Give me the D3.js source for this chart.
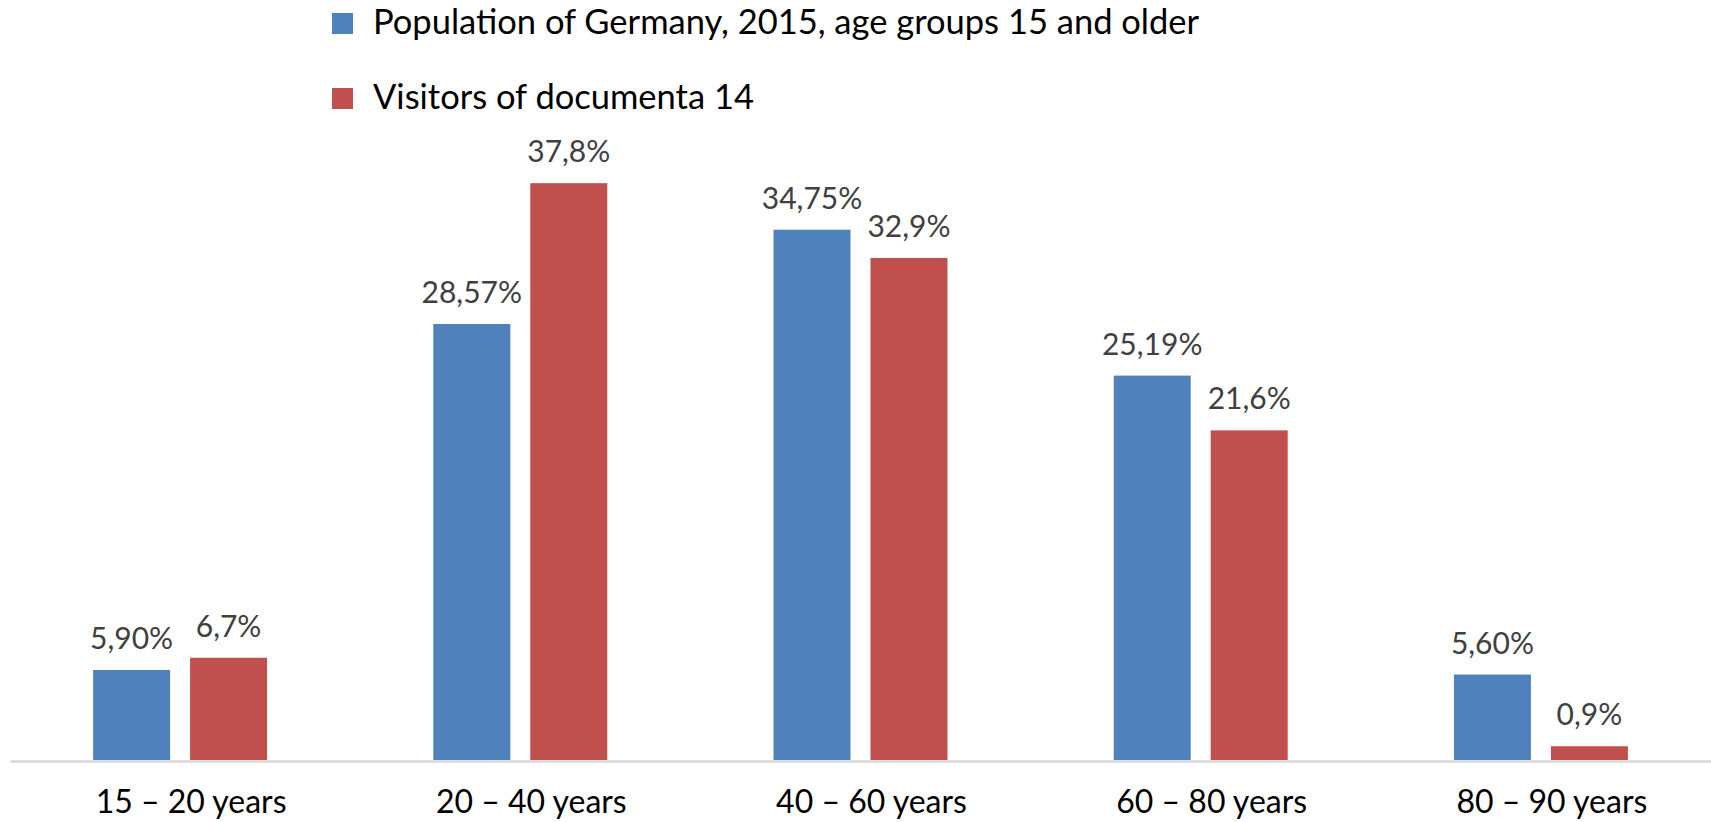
<!DOCTYPE html>
<html>
<head>
<meta charset="utf-8">
<script src="https://cdn.jsdelivr.net/npm/d3@7/dist/d3.min.js"></script>
<style>
  html, body { margin: 0; padding: 0; background: #ffffff; }
  svg { display: block; }
  text { font-family: Lato, "Noto Sans", sans-serif; }
</style>
</head>
<body>
<svg id="chart" width="1711" height="822"></svg>
<script>
// Age groups on the x axis
const categories = ["15 – 20 years", "20 – 40 years", "40 – 60 years", "60 – 80 years", "80 – 90 years"];
// Share of each age group, in percent
const populationValues = [5.90, 28.57, 34.75, 25.19, 5.60];
const visitorValues = [6.7, 37.8, 32.9, 21.6, 0.9];
// Value labels as printed above the bars
const populationLabels = ["5,90%", "28,57%", "34,75%", "25,19%", "5,60%"];
const visitorLabels = ["6,7%", "37,8%", "32,9%", "21,6%", "0,9%"];
// Legend entries
const seriesNames = ["Population of Germany, 2015, age groups 15 and older", "Visitors of documenta 14"];
const seriesColors = ["#4f81bd", "#c0504d"];

const series = [
  { name: seriesNames[0], color: seriesColors[0], values: populationValues, labels: populationLabels },
  { name: seriesNames[1], color: seriesColors[1], values: visitorValues, labels: visitorLabels }
];

const svg = d3.select("#chart");
const plot = { left: 10, right: 1711, baseline: 760 };

const x = d3.scaleBand()
  .domain(categories)
  .range([plot.left, plot.right])
  .paddingInner(0)
  .paddingOuter(0);

const x1 = d3.scaleBand()
  .domain(seriesNames)
  .range([0, x.bandwidth()])
  .paddingInner(0.206)
  .paddingOuter(0.857);

const y = d3.scaleLinear()
  .domain([0, 40])
  .range([plot.baseline, plot.baseline - 40 * 15.26]);

// Bars
const groups = svg.append("g")
  .selectAll("g")
  .data(series)
  .join("g")
  .attr("fill", d => d.color);

groups.selectAll("rect")
  .data(s => s.values.map((v, i) => ({ s, v, i })))
  .join("rect")
  .attr("x", d => x(categories[d.i]) + x1(d.s.name))
  .attr("y", d => y(d.v))
  .attr("width", x1.bandwidth())
  .attr("height", d => y(0) - y(d.v));

// Value labels
svg.append("g")
  .selectAll("g")
  .data(series)
  .join("g")
  .selectAll("text")
  .data(s => s.values.map((v, i) => ({ s, v, i })))
  .join("text")
  .attr("x", d => x(categories[d.i]) + x1(d.s.name) + x1.bandwidth() / 2)
  .attr("y", d => y(d.v) - 21)
  .attr("text-anchor", "middle")
  .attr("fill", "#404040")
  .attr("font-size", 30)
  .text(d => d.s.labels[d.i]);

// Category axis
const xAxis = d3.axisBottom(x).tickSize(0).tickPadding(0);
const axisG = svg.append("g")
  .attr("transform", `translate(0,${plot.baseline + 1})`)
  .call(xAxis);
axisG.select(".domain")
  .attr("stroke", "#d9d9d9")
  .attr("stroke-width", 2.5);
axisG.selectAll(".tick text")
  .attr("font-size", 32)
  .attr("font-family", "Lato, 'Noto Sans', sans-serif")
  .attr("fill", "#000000")
  .attr("dy", 0)
  .attr("dx", 11)
  .attr("y", 52);

// Legend
const legend = svg.append("g")
  .selectAll("g")
  .data(series)
  .join("g")
  .attr("transform", (d, i) => `translate(332,${13 + i * 75})`);
legend.append("rect")
  .attr("width", 21)
  .attr("height", 21)
  .attr("fill", d => d.color);
legend.append("text")
  .attr("x", 41)
  .attr("y", 21)
  .attr("font-size", 34.5)
  .attr("fill", "#000000")
  .text(d => d.name);
</script>
</body>
</html>
